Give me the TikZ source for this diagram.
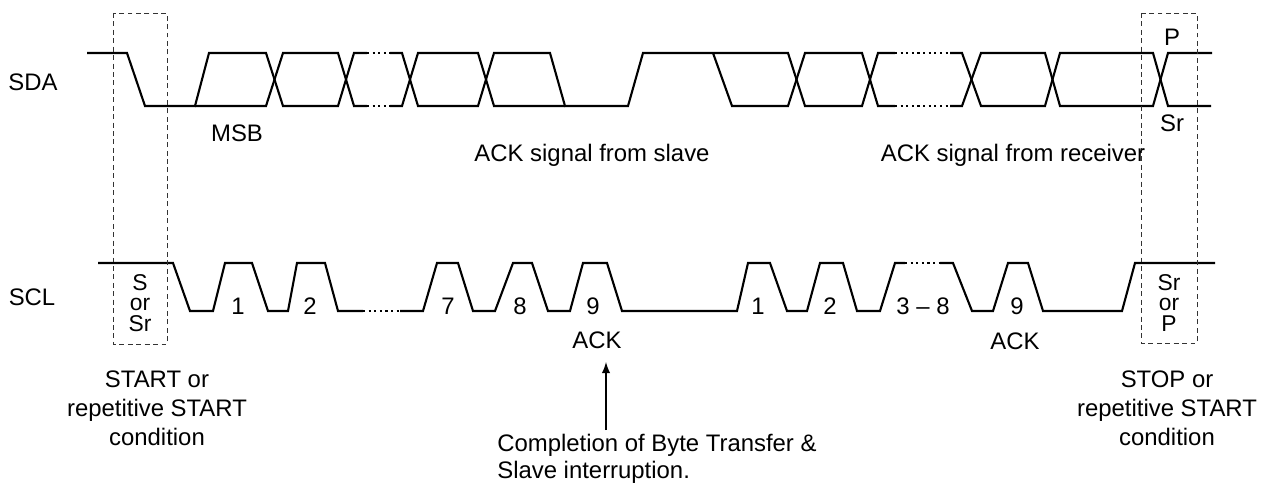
\documentclass[tikz,border=0pt]{standalone}
\usepackage{fontspec}
\setmainfont{Liberation Sans}
\tikzset{
  wave/.style={line width=1.2pt, line join=miter},
  dotwave/.style={line width=1.2pt, dotted},
  condbox/.style={dash pattern=on 2.8pt off 2pt, line width=0.5pt, black!80},
  lbl/.style={inner sep=0pt, font=\fontsize{13.6}{16.5}\selectfont},
  boxlbl/.style={inner sep=0pt, align=center, font=\fontsize{13}{11.8}\selectfont}
}
\begin{document}
\begin{tikzpicture}[x=0.02cm, y=-0.02cm]
\useasboundingbox (0,0) rectangle (1268,486);
% SDA
\draw[wave] (87,53) -- (127,53) -- (145,106) -- (195,106) -- (209,53) -- (266,53) -- (283,106) -- (338,106) -- (354,53) -- (367,53);
\draw[wave] (195,106) -- (266,106) -- (283,53) -- (338,53) -- (354,106) -- (367,106);
\draw[dotwave] (367,53) -- (390,53);
\draw[dotwave] (367,106) -- (390,106);
\draw[wave] (390,53) -- (402,53) -- (418,106) -- (478,106) -- (494,53) -- (550,53) -- (565,106) -- (628,106) -- (643,53) -- (788,53) -- (805,106) -- (862,106) -- (878,53) -- (895,53);
\draw[wave] (390,106) -- (402,106) -- (418,53) -- (478,53) -- (494,106) -- (565,106);
\draw[wave] (713,53) -- (732,106) -- (788,106) -- (805,53) -- (862,53) -- (878,106) -- (895,106);
\draw[dotwave] (895,53) -- (950,53);
\draw[dotwave] (895,106) -- (950,106);
\draw[wave] (950,53) -- (962,53) -- (981,106) -- (1045,106) -- (1060,53) -- (1153,53) -- (1168,106) -- (1211,106);
\draw[wave] (950,106) -- (962,106) -- (981,53) -- (1045,53) -- (1060,106) -- (1153,106) -- (1168,53) -- (1212,53);
% SCL
\draw[wave] (98,263) -- (173,263) -- (190,311) -- (213,311) -- (225,263) -- (252,263) -- (268,311) -- (288,311) -- (297,263) -- (325,263) -- (338,311) -- (363,311);
\draw[dotwave] (363,311) -- (400,311);
\draw[wave] (400,311) -- (423,311) -- (437,263) -- (458,263) -- (473,311) -- (495,311) -- (513,263) -- (532,263) -- (548,311) -- (570,311) -- (583,263) -- (607,263) -- (622,311) -- (737,311) -- (748,263) -- (770,263) -- (787,311) -- (807,311) -- (820,263) -- (843,263) -- (857,311) -- (880,311) -- (895,263) -- (905,263);
\draw[dotwave] (905,263) -- (940,263);
\draw[wave] (940,263) -- (953,263) -- (972,311) -- (993,311) -- (1008,263) -- (1028,263) -- (1043,311) -- (1122,311) -- (1135,263) -- (1215,263);
% START / STOP boxes
\draw[condbox] (113,13) rectangle (167,344);
\draw[condbox] (1141,13) rectangle (1197,343);
\node[boxlbl] (startin) at (140,303) {S\\or\\Sr};
\node[boxlbl] (stopin) at (1169,303) {Sr\\or\\P};
\node[lbl] (stopp) at (1172,37) {P};
\node[lbl] (stopsr) at (1172,123) {Sr};
% labels
\node[lbl] (sda) at (33,82) {SDA};
\node[lbl] (scl) at (32,297) {SCL};
\node[lbl] (msb) at (237,133) {MSB};
\node[lbl] (ackslv) at (592,155) {ACK signal from slave};
\node[lbl] (ackrcv) at (1013,155) {ACK signal from receiver};
\node[lbl] (clka) at (238,306) {1};
\node[lbl] (clkb) at (310,306) {2};
\node[lbl] (clkc) at (448,306) {7};
\node[lbl] (clkd) at (520,306) {8};
\node[lbl] (clke) at (593,306) {9};
\node[lbl] (clkf) at (758,306) {1};
\node[lbl] (clkg) at (830,306) {2};
\node[lbl] (clkh) at (923,306) {3 -- 8};
\node[lbl] (clki) at (1017,306) {9};
\node[lbl] (acka) at (597,340) {ACK};
\node[lbl] (ackb) at (1015,341) {ACK};
\node[lbl, align=center] (startcond) at (157,408) {START or\\repetitive START\\condition};
\node[lbl, align=center] (stopcond) at (1167,408) {STOP or\\repetitive START\\condition};
\node[lbl, align=left, anchor=north west, font=\fontsize{13.6}{15.4}\selectfont] (cmpl) at (497,434) {Completion of Byte Transfer \&\\Slave interruption.};
\coordinate (arrtail) at (606,430);
\coordinate (arrtip) at (606,362);
\draw[-latex, line width=1.2pt] (arrtail) -- (arrtip);
\end{tikzpicture}
\end{document}
